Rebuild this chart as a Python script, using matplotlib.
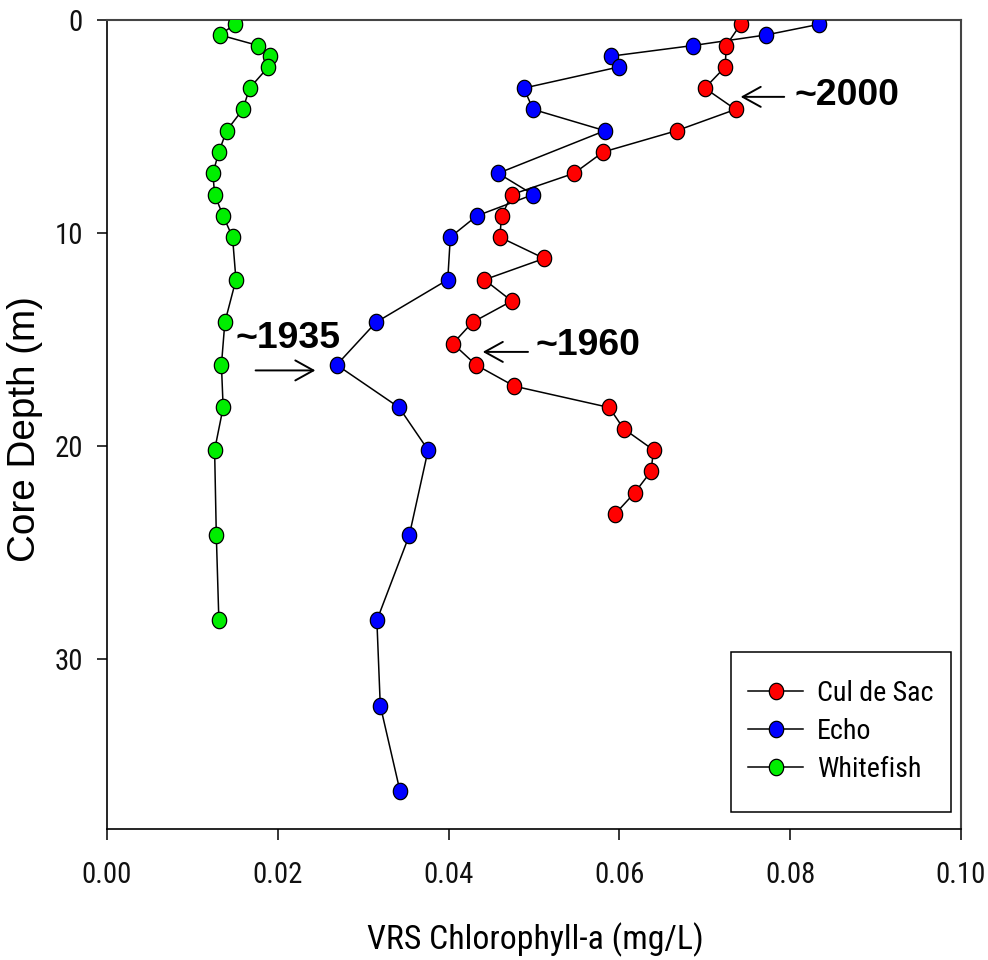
import matplotlib
matplotlib.use("Agg")
import matplotlib.pyplot as plt
import numpy as np
from matplotlib.path import Path
from matplotlib.patches import Rectangle
from matplotlib.ticker import FormatStrFormatter
from matplotlib import font_manager as fm
from matplotlib.textpath import TextPath

# ---------------- data ----------------
culdesac_depth = [0.2, 1.2, 2.2, 3.2, 4.2, 5.2, 6.2, 7.2, 8.2, 9.2, 10.2, 11.2,
                  12.2, 13.2, 14.2, 15.2, 16.2, 17.2, 18.2, 19.2, 20.2, 21.2, 22.2, 23.2]
culdesac_chl = [0.0742, 0.0725, 0.0724, 0.0700, 0.0736, 0.0667, 0.0581, 0.0547,
                0.0474, 0.0462, 0.0460, 0.0512, 0.0442, 0.0474, 0.0428, 0.0405,
                0.0432, 0.0477, 0.0588, 0.0605, 0.0640, 0.0637, 0.0618, 0.0595]

echo_depth = [0.2, 0.7, 1.2, 1.7, 2.2, 3.2, 4.2, 5.2, 7.2, 8.2, 9.2, 10.2, 12.2,
              14.2, 16.2, 18.2, 20.2, 24.2, 28.2, 32.2, 36.2]
echo_chl = [0.0834, 0.0772, 0.0686, 0.0590, 0.0600, 0.0488, 0.0499, 0.0583,
            0.0458, 0.0499, 0.0433, 0.0402, 0.0399, 0.0315, 0.0269, 0.0342,
            0.0376, 0.0354, 0.0316, 0.0320, 0.0343]

whitefish_depth = [0.2, 0.7, 1.2, 1.7, 2.2, 3.2, 4.2, 5.2, 6.2, 7.2, 8.2, 9.2,
                   10.2, 12.2, 14.2, 16.2, 18.2, 20.2, 24.2, 28.2]
whitefish_chl = [0.0150, 0.0132, 0.0177, 0.0191, 0.0189, 0.0167, 0.0159, 0.0140,
                 0.0131, 0.0124, 0.0126, 0.0136, 0.0147, 0.0151, 0.0138, 0.0134,
                 0.0136, 0.0126, 0.0128, 0.0131]

series_names = ["Cul de Sac", "Echo", "Whitefish"]
series_colors = ["#ff0000", "#0000ff", "#00ee00"]

x_ticks = [0.00, 0.02, 0.04, 0.06, 0.08, 0.10]
y_ticks = [0, 10, 20, 30]

x_label = "VRS Chlorophyll-a (mg/L)"
y_label = "Core Depth (m)"

# annotations: label, text position, arrow tail, arrow head (data coords)
annot_labels = ["~2000", "~1960", "~1935"]
annot_text_xy = [(0.0805, 3.56), (0.0502, 15.28), (0.0150, 14.95)]
annot_tail_xy = [(0.0793, 3.61), (0.0493, 15.59), (0.0174, 16.46)]
annot_head_xy = [(0.0742, 3.61), (0.0440, 15.59), (0.0244, 16.46)]

# ---------------- fonts ----------------
available = {f.name for f in fm.fontManager.ttflist}
narrow_candidates = ["Liberation Sans Narrow", "Arial Narrow", "Roboto Condensed",
                     "Archivo Narrow", "PT Sans Narrow", "Fira Sans Condensed",
                     "IBM Plex Sans Condensed", "Liberation Sans"]
narrow = next((n for n in narrow_candidates if n in available), "DejaVu Sans")
regular = "Liberation Sans" if "Liberation Sans" in available else "DejaVu Sans"

DPI = 100


def fit_size(text, family, target_w, target_h=None, htext=None, weight="normal"):
    prop = fm.FontProperties(family=family, weight=weight)
    ext = TextPath((0, 0), text, size=100, prop=prop).get_extents()
    s_w = 100 * target_w / (ext.width * DPI / 72)
    if target_h is None:
        return s_w
    exth = TextPath((0, 0), htext or text, size=100, prop=prop).get_extents()
    s_h = 100 * target_h / (exth.height * DPI / 72)
    return float(np.sqrt(s_w * s_h))


tick_fs = fit_size("0.00", narrow, 45, 22, "000")
xlab_fs = fit_size(x_label, narrow, 328, 25, "VRS")
leg_fs = fit_size("Cul de Sac", narrow, 117, 20, "CS")
ylab_fs = fit_size(y_label, regular, 262)
ann_fs = fit_size("~2000", regular, 102, weight="bold")

# ---------------- figure ----------------
fig = plt.figure(figsize=(9.88, 9.60), dpi=DPI)
W, H = 988, 960
L, R, T, B = 107, 961, 20, 829
ax = fig.add_axes([L / W, 1 - B / H, (R - L) / W, (B - T) / H])


def ax_frac(px, py):
    return (px - L) / (R - L), (B - py) / (B - T)


# slightly elliptical marker (taller than wide), like the reference
t = np.linspace(0, 2 * np.pi, 64)
ell = Path(np.column_stack([0.875 * np.cos(t), np.sin(t)]), closed=True)

data = [(culdesac_chl, culdesac_depth), (echo_chl, echo_depth),
        (whitefish_chl, whitefish_depth)]
zorders = [4, 3, 3]
for (xv, yv), name, col, zo in zip(data, series_names, series_colors, zorders):
    ax.plot(xv, yv, color="black", lw=1.1, marker=ell, markersize=11.8,
            markerfacecolor=col, markeredgecolor="black", markeredgewidth=0.9,
            label=name, zorder=zo)

ax.set_xlim(0, 0.10)
ax.set_ylim(38, 0)
ax.set_xticks(x_ticks)
ax.set_yticks(y_ticks)
ax.xaxis.set_major_formatter(FormatStrFormatter("%.2f"))

for lab in ax.get_xticklabels() + ax.get_yticklabels():
    lab.set_family(narrow)
    lab.set_fontsize(tick_fs)
    lab.set_color("#111111")
ax.tick_params(axis="x", direction="out", length=8, width=1.1, pad=15)
ax.tick_params(axis="y", direction="out", length=7, width=1.1, pad=10.5)

for s in ["left", "bottom"]:
    ax.spines[s].set_color("black")
    ax.spines[s].set_linewidth(1.2)
for s in ["top", "right"]:
    ax.spines[s].set_color("#444444")
    ax.spines[s].set_linewidth(1.5)

ax.set_xlabel(x_label, family=narrow, fontsize=xlab_fs)
ax.set_ylabel(y_label, family=regular, fontsize=ylab_fs)
ax.xaxis.label.set_va("center")
ax.yaxis.label.set_va("center")
ax.xaxis.set_label_coords(*ax_frac(535, 940))
ax.yaxis.set_label_coords(*ax_frac(25, 429))

for lab, txy, tail, head in zip(annot_labels, annot_text_xy, annot_tail_xy, annot_head_xy):
    ax.text(txy[0], txy[1], lab, family=regular, fontweight="bold", fontsize=ann_fs,
            ha="left", va="center", zorder=6)
    ax.annotate("", xy=head, xytext=tail,
                arrowprops=dict(arrowstyle="->,head_length=0.65,head_width=0.36",
                                lw=1.4, color="black", mutation_scale=20,
                                shrinkA=0, shrinkB=0), zorder=6)

# legend: entries without own frame, boxed by a rectangle matching the reference
x0, y0 = ax_frac(730.7, 811.7)
x1, y1 = ax_frac(950.7, 651.7)
ax.add_patch(Rectangle((x0, y0), x1 - x0, y1 - y0, transform=ax.transAxes,
                       facecolor="white", edgecolor="black", lw=1.1, zorder=7))
fs_px = leg_fs * DPI / 72
leg = ax.legend(loc="center left", bbox_to_anchor=ax_frac(748, 731.7), borderaxespad=0,
                frameon=False, prop={"family": narrow, "size": leg_fs},
                handlelength=55 / fs_px, handletextpad=13.7 / fs_px, borderpad=0,
                labelspacing=11.0 / fs_px)
leg.set_zorder(8)

fig.savefig("out.png", dpi=DPI)
